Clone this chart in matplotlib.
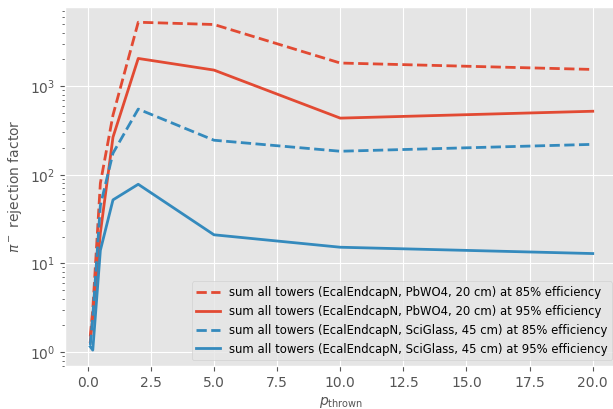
import numpy as np
import matplotlib
matplotlib.use('Agg')
import matplotlib.pyplot as plt

plt.style.use('ggplot')

p_thrown = [0.1, 0.2, 0.5, 1, 2, 5, 10, 20]

pbwo4_85 = [1.5, 3.0, 80, 470, 5250, 4950, 1820, 1540]
pbwo4_95 = [1.3, 2.5, 22, 265, 2050, 1515, 435, 520]
sciglass_85 = [1.2, 2.5, 45, 175, 550, 245, 184, 220]
sciglass_95 = [1.15, 1.05, 14, 52, 78, 21, 15.2, 12.9]

labels = [
    'sum all towers (EcalEndcapN, PbWO4, 20 cm) at 85% efficiency',
    'sum all towers (EcalEndcapN, PbWO4, 20 cm) at 95% efficiency',
    'sum all towers (EcalEndcapN, SciGlass, 45 cm) at 85% efficiency',
    'sum all towers (EcalEndcapN, SciGlass, 45 cm) at 95% efficiency',
]

red = '#E24A33'
blue = '#348ABD'

fig = plt.figure(figsize=(6.13, 4.09), dpi=100)
ax = fig.add_axes([65/613, 43/409, 553/613, 359/409])

ax.plot(p_thrown, pbwo4_85, '--', color=red, lw=2, label=labels[0])
ax.plot(p_thrown, pbwo4_95, '-', color=red, lw=2, label=labels[1])
ax.plot(p_thrown, sciglass_85, '--', color=blue, lw=2, label=labels[2])
ax.plot(p_thrown, sciglass_95, '-', color=blue, lw=2, label=labels[3])

ax.set_yscale('log')
ax.set_ylim(0.695, 7800)
ax.set_xlim(-0.9, 21.0)
ax.set_xticks([0.0, 2.5, 5.0, 7.5, 10.0, 12.5, 15.0, 17.5, 20.0])

ax.set_xlabel(r'$p_{\mathrm{thrown}}$', fontsize=10)
ax.set_ylabel(r'$\pi^-$ rejection factor', fontsize=10)
ax.tick_params(labelsize=10)

ax.legend(loc='lower right', fontsize=8.4)

fig.savefig('out.png', dpi=100)
